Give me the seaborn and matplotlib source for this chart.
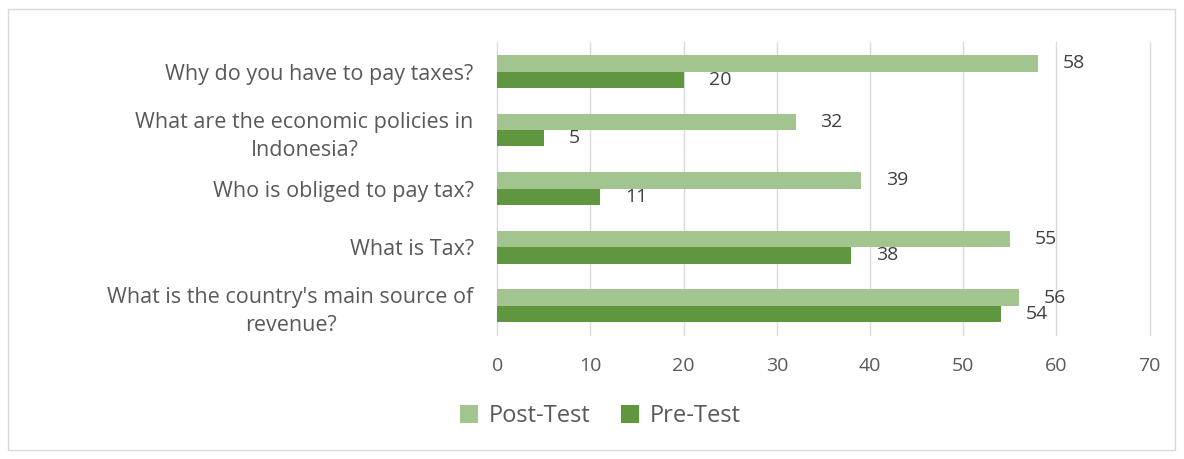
import pandas as pd
import matplotlib.pyplot as plt
import seaborn as sns
from matplotlib.patches import Rectangle

# Survey answers: correct responses before and after the session
questions = [
    "Why do you have to pay taxes?",
    "What are the economic policies in\nIndonesia?",
    "Who is obliged to pay tax?",
    "What is Tax?",
    "What is the country's main source of\nrevenue?",
]
post_test = [58, 32, 39, 55, 56]
pre_test = [20, 5, 11, 38, 54]
series = ["Post-Test", "Pre-Test"]

df = pd.DataFrame({
    "question": questions * 2,
    "score": post_test + pre_test,
    "test": [series[0]] * len(questions) + [series[1]] * len(questions),
})

sns.set_style("white")
plt.rcParams['font.family'] = ['Open Sans', 'DejaVu Sans']

fig = plt.figure(figsize=(11.84, 4.59), dpi=100)
ax = fig.add_axes([0.42, 0.27, 0.551, 0.638])

palette = {"Post-Test": "#A2C48E", "Pre-Test": "#5F963F"}
sns.barplot(data=df, y="question", x="score", hue="test", hue_order=series,
            order=questions, palette=palette, orient="y", width=0.56,
            saturation=1, linewidth=0, ax=ax, legend=True)

for cont in ax.containers:
    ax.bar_label(cont, padding=18, fontsize=14, color="#404040")

ax.set_xlim(0, 70)
ax.set_xticks(range(0, 71, 10))
ax.grid(axis="x", color="#d9d9d9", linewidth=1)
for line in ax.get_xgridlines():
    line.set_clip_on(False)
ax.set_axisbelow(True)
for s in ax.spines.values():
    s.set_visible(False)
ax.set_xlabel("")
ax.set_ylabel("")
ax.tick_params(axis="x", labelsize=14, colors="#595959", length=0, pad=16)
ax.tick_params(axis="y", labelsize=15.5, colors="#595959", length=0, pad=17)
for lbl in ax.get_yticklabels():
    lbl.set_horizontalalignment("right")
    lbl.set_multialignment("center")
    lbl.set_linespacing(1.45)

handles, labels = ax.get_legend_handles_labels()
ax.legend_.remove()
fig.legend(handles, labels, loc="center", bbox_to_anchor=(0.507, 0.093),
           ncol=2, frameon=False, fontsize=17, handlelength=0.75,
           handleheight=0.75, columnspacing=1.3, handletextpad=0.45,
           labelcolor="#595959")

fig.patches.append(Rectangle((8 / 1184, 9 / 459), 1167 / 1184, 441 / 459,
                             transform=fig.transFigure, fill=False,
                             edgecolor="#d9d9d9", linewidth=1))

fig.savefig("out.png", dpi=100, facecolor="white")
